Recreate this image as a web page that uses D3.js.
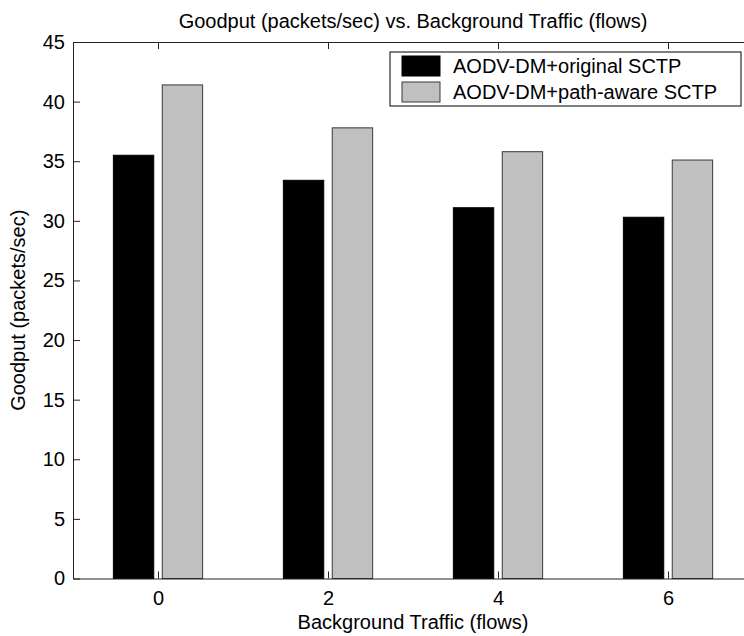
<!DOCTYPE html>
<html>
<head>
<meta charset="utf-8">
<script src="https://cdn.jsdelivr.net/npm/d3@7"></script>
<style>
  html, body { margin: 0; padding: 0; background: #fff; }
  svg { display: block; }
  text { font-family: "Liberation Sans", Arial, sans-serif; fill: #000; }
</style>
</head>
<body>
<script>
// Background traffic levels (flows) on the x axis
const flows = [0, 2, 4, 6];
// Goodput (packets/sec) for each routing/transport combination
const originalSctp = [35.5, 33.4, 31.1, 30.3];
const pathAwareSctp = [41.4, 37.8, 35.8, 35.1];
const seriesNames = ["AODV-DM+original SCTP", "AODV-DM+path-aware SCTP"];
const yTicks = [0, 5, 10, 15, 20, 25, 30, 35, 40, 45];

const W = 744, H = 636;
const plotLeft = 73, plotRight = 753, plotTop = 42, plotBottom = 578.5;
const fontSize = 20;

const svg = d3.select("body").append("svg")
  .attr("width", W).attr("height", H);

const x = d3.scaleLinear().domain([-1, 7]).range([plotLeft, plotRight]);
const y = d3.scaleLinear().domain([0, 45]).range([plotBottom, plotTop]);

const series = [
  { name: seriesNames[0], values: originalSctp, offset: -0.2875, fill: "#000000", stroke: "#000000" },
  { name: seriesNames[1], values: pathAwareSctp, offset: 0.2875, fill: "#c0c0c0", stroke: "#3a3a3a" }
];
const barW = 0.475;

// Bars
series.forEach(s => {
  svg.append("g").selectAll("rect")
    .data(flows.map((f, i) => ({ f, v: s.values[i] })))
    .join("rect")
    .attr("x", d => x(d.f + s.offset - barW / 2))
    .attr("width", d => x(d.f + s.offset + barW / 2) - x(d.f + s.offset - barW / 2))
    .attr("y", d => y(d.v))
    .attr("height", d => y(0) - y(d.v))
    .attr("fill", s.fill)
    .attr("stroke", s.stroke)
    .attr("stroke-width", 1);
});

// Axes with inward ticks and a full box
const axisColor = "#222";
function styleAxis(g) {
  g.selectAll("path, line").attr("stroke", axisColor).attr("stroke-width", 1);
  g.selectAll("text").style("font-size", fontSize + "px")
    .style("font-family", '"Liberation Sans", Arial, sans-serif').attr("fill", "#000");
}

svg.append("g").attr("transform", `translate(0,${plotBottom})`)
  .call(d3.axisBottom(x).tickValues(flows).tickSizeInner(-7).tickSizeOuter(0).tickPadding(12))
  .call(styleAxis);
svg.append("g").attr("transform", `translate(0,${plotTop})`)
  .call(d3.axisTop(x).tickValues(flows).tickFormat("").tickSizeInner(-7).tickSizeOuter(0))
  .call(styleAxis);
svg.append("g").attr("transform", `translate(${plotLeft},0)`)
  .call(d3.axisLeft(y).tickValues(yTicks).tickSizeInner(-7).tickSizeOuter(0).tickPadding(8))
  .call(styleAxis);
svg.append("g").attr("transform", `translate(${plotRight},0)`)
  .call(d3.axisRight(y).tickValues(yTicks).tickFormat("").tickSizeInner(-7).tickSizeOuter(0))
  .call(styleAxis);

// Title and axis labels
svg.append("text")
  .attr("x", (plotLeft + plotRight) / 2).attr("y", 28)
  .attr("text-anchor", "middle").style("font-size", fontSize + "px")
  .text("Goodput (packets/sec) vs. Background Traffic (flows)");
svg.append("text")
  .attr("x", (plotLeft + plotRight) / 2).attr("y", 629)
  .attr("text-anchor", "middle").style("font-size", fontSize + "px")
  .text("Background Traffic (flows)");
svg.append("text")
  .attr("transform", `translate(25,${(plotTop + plotBottom) / 2}) rotate(-90)`)
  .attr("text-anchor", "middle").style("font-size", fontSize + "px")
  .text("Goodput (packets/sec)");

// Legend
const lg = svg.append("g");
lg.append("rect")
  .attr("x", 390).attr("y", 52).attr("width", 351).attr("height", 54)
  .attr("fill", "#fff").attr("stroke", "#000").attr("stroke-width", 1);
series.forEach((s, i) => {
  const rowY = 56 + i * 26;
  lg.append("rect")
    .attr("x", 402).attr("y", rowY).attr("width", 38).attr("height", 20)
    .attr("fill", s.fill).attr("stroke", s.stroke).attr("stroke-width", 1);
  lg.append("text")
    .attr("x", 453).attr("y", rowY + 16.5)
    .style("font-size", fontSize + "px")
    .text(s.name);
});
</script>
</body>
</html>
